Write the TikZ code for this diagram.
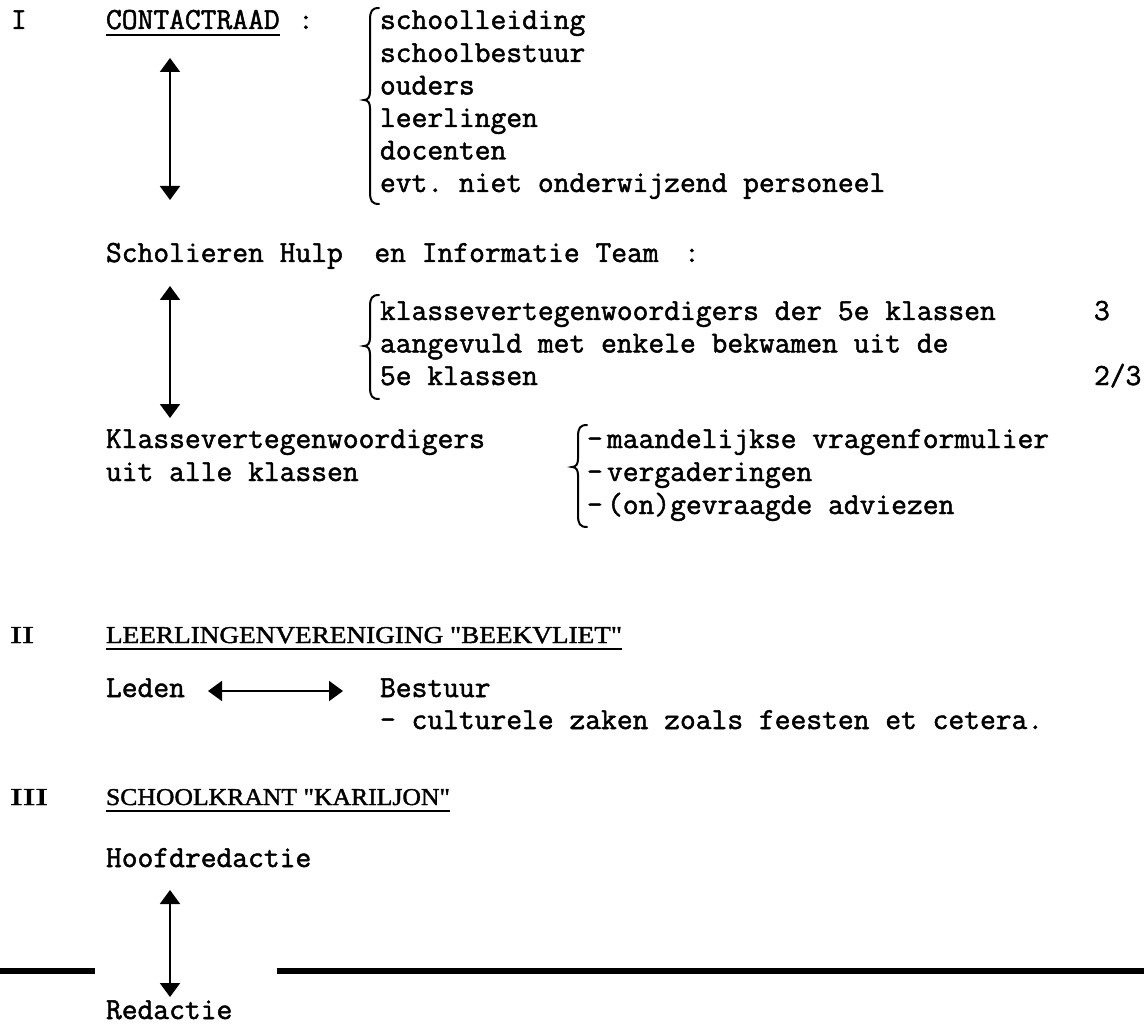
\documentclass[tikz,border=0pt]{standalone}
\usepackage{fontspec}
\usepackage{graphicx}
\setmonofont{Latin Modern Mono}[FakeBold=1.6]
\newfontfamily\headfont{Liberation Serif}[FakeBold=1.5]
\usetikzlibrary{arrows.meta}
\tikzset{
  tw/.style={font=\ttfamily\fontsize{15.33}{18}\selectfont, anchor=base west, inner sep=0pt, outer sep=0pt},
  hd/.style={anchor=base west, inner sep=0pt, outer sep=0pt},
  link/.style={line width=1pt, {Triangle[width=10pt,length=7pt]}-{Triangle[width=10pt,length=7pt]}},
  bracestyle/.style={line width=1pt, line cap=round},
  uline/.style={line width=0.8pt},
  rulebar/.style={line width=2.8pt}
}
\newcommand\mybrace[4]{% spine x, top y, cusp y, bottom y
  \draw[bracestyle] ({#1+9},#2) .. controls ({#1+2},#2) and (#1,{#2+3}) .. (#1,{#2+12})
    -- (#1,{#3-8}) .. controls (#1,{#3-3}) and ({#1-2},#3) .. ({#1-6},#3)
    .. controls ({#1-2},#3) and (#1,{#3+3}) .. (#1,{#3+8})
    -- (#1,{#4-12}) .. controls (#1,{#4-3}) and ({#1+2},#4) .. ({#1+9},#4);}
\begin{document}
\begin{tikzpicture}[x=0.5pt,y=-0.5pt]
\useasboundingbox[fill=white] (0,0) rectangle (1144,1026);

% ---------- I CONTACTRAAD ----------
\node[tw] (rI) at (11,29) {I};
\node[tw] (contact) at (106,29) {CONTACTRAAD};
\draw[uline] ([yshift=-3pt]contact.base west) -- ([yshift=-3pt]contact.base east);
\node[tw] (col1) at (298,29) {:};
\mybrace{370}{8}{100}{204}
\node[tw] (c1) at (380,29) {schoolleiding};
\node[tw] (c2) at (380,62) {schoolbestuur};
\node[tw] (c3) at (380,94.5) {ouders};
\node[tw] (c4) at (380,127) {leerlingen};
\node[tw] (c5) at (380,159.5) {docenten};
\node[tw] (c6) at (380,192) {evt. niet onderwijzend personeel};

\coordinate (a1t) at (170,58);
\coordinate (a1b) at (170,200);
\draw[link] (a1t) -- (a1b);

\node[tw] (shit) at (106,262) {Scholieren Hulp\ \ en Informatie Team};
\node[tw] (col2) at (684,262) {:};

\coordinate (a2t) at (170,286);
\coordinate (a2b) at (170,418);
\draw[link] (a2t) -- (a2b);

\mybrace{370}{295}{346}{399}
\node[tw] (k1) at (380,320) {klassevertegenwoordigers der 5e klassen};
\node[tw] (k2) at (380,352.5) {aangevuld met enkele bekwamen uit de};
\node[tw] (k3) at (380,385) {5e klassen};
\node[tw] (n1) at (1094,320) {3};
\node[tw] (n2) at (1094,385) {2/3};

\node[tw] (kv1) at (106,448) {Klassevertegenwoordigers};
\node[tw] (kv2) at (106,481) {uit alle klassen};

\mybrace{578}{425}{467}{527}
\node[tw] (d1) at (587,448) {-};
\node[tw] (d2) at (587,481) {-};
\node[tw] (d3) at (587,514) {-};
\node[tw] (m1) at (607,448) {maandelijkse vragenformulier};
\node[tw] (m2) at (607,481) {vergaderingen};
\node[tw] (m3) at (607,514) {(on)gevraagde adviezen};

% ---------- II ----------
\node[hd] (rII) at (10,643) {\resizebox{12pt}{8pt}{\headfont II}};
\node[hd] (lv) at (106,643) {\resizebox{258pt}{8pt}{\headfont LEERLINGENVERENIGING "BEEKVLIET"}};
\draw[uline] ([yshift=-3pt]lv.base west) -- ([yshift=-3pt]lv.base east);

\node[tw] (leden) at (106,697) {Leden};
\node[tw] (bestuur) at (380,697) {Bestuur};
\coordinate (lt) at (208,691);
\coordinate (rt) at (343,691);
\draw[link] (lt) -- (rt);
\node[tw] (cult) at (380,729) {- culturele zaken zoals feesten et cetera.};

% ---------- III ----------
\node[hd] (rIII) at (10,805) {\resizebox{19pt}{8pt}{\headfont III}};
\node[hd] (sk) at (106,805) {\resizebox{172pt}{8pt}{\headfont SCHOOLKRANT "KARILJON"}};
\draw[uline] ([yshift=-3pt]sk.base west) -- ([yshift=-3pt]sk.base east);

\node[tw] (hoofd) at (106,867) {Hoofdredactie};
\coordinate (a3t) at (170,890);
\coordinate (a3b) at (170,997);
\draw[link] (a3t) -- (a3b);

\coordinate (r1a) at (0,971);
\coordinate (r1b) at (95,971);
\coordinate (r2a) at (277,971);
\coordinate (r2b) at (1144,971);
\draw[rulebar] (r1a) -- (r1b);
\draw[rulebar] (r2a) -- (r2b);

\node[tw] (red) at (106,1019) {Redactie};
\end{tikzpicture}
\end{document}
